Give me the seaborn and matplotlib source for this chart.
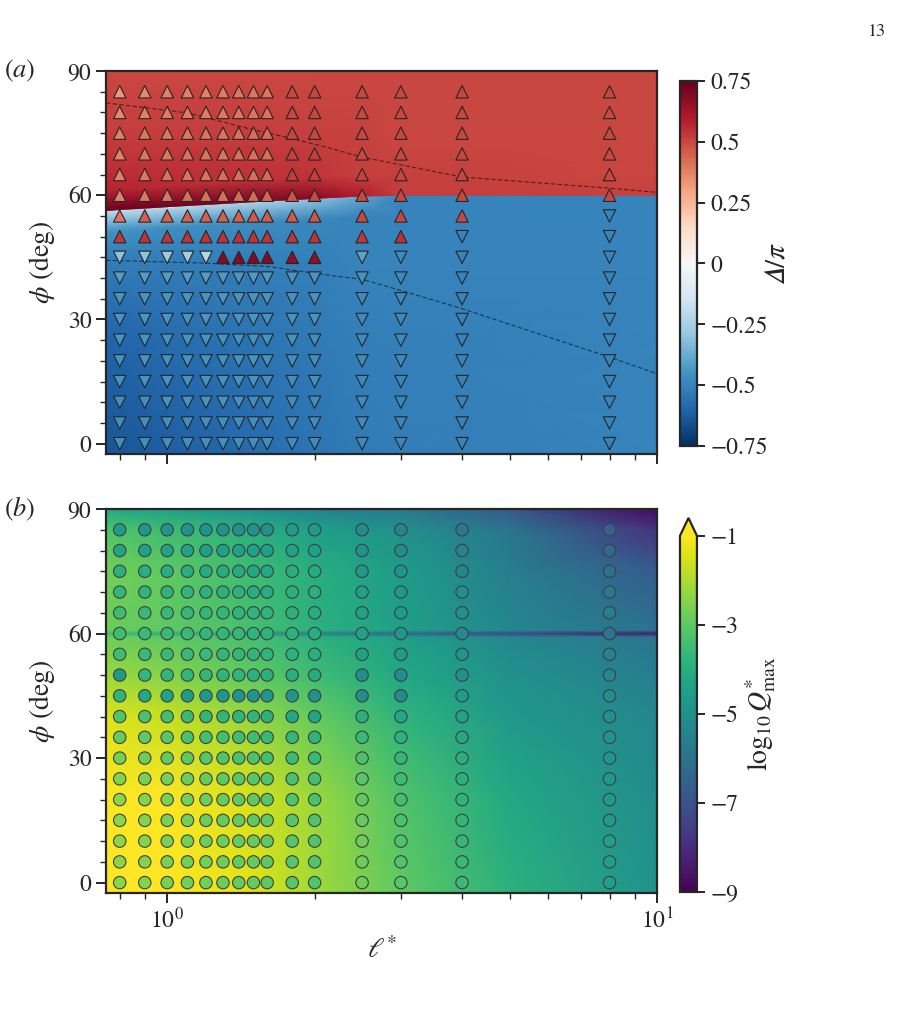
import numpy as np
import pandas as pd
import matplotlib
matplotlib.use("Agg")
import matplotlib.pyplot as plt
import seaborn as sns

# -------------------- data --------------------

ell = [0.8, 0.9, 1.0, 1.1, 1.2, 1.3, 1.4, 1.5, 1.6, 1.8, 2.0, 2.5, 3.0, 4.0, 8.0]
phi = [85, 80, 75, 70, 65, 60, 55, 50, 45, 40, 35, 30, 25, 20, 15, 10, 5, 0]

# Delta/pi at each simulation point (rows follow phi, columns follow ell)
delta = [
    [0.33, 0.36, 0.38, 0.38, 0.38, 0.39, 0.40, 0.40, 0.40, 0.50, 0.50, 0.50, 0.50, 0.50, 0.50],
    [0.36, 0.38, 0.39, 0.39, 0.39, 0.40, 0.40, 0.41, 0.41, 0.50, 0.50, 0.50, 0.50, 0.50, 0.50],
    [0.38, 0.40, 0.40, 0.40, 0.41, 0.41, 0.41, 0.42, 0.42, 0.50, 0.50, 0.50, 0.50, 0.50, 0.50],
    [0.38, 0.40, 0.40, 0.41, 0.41, 0.41, 0.42, 0.42, 0.42, 0.51, 0.51, 0.50, 0.50, 0.50, 0.50],
    [0.38, 0.40, 0.41, 0.41, 0.41, 0.42, 0.42, 0.42, 0.43, 0.52, 0.52, 0.51, 0.50, 0.50, 0.50],
    [0.38, 0.40, 0.41, 0.42, 0.42, 0.42, 0.43, 0.43, 0.44, 0.48, 0.50, 0.50, 0.50, 0.50, 0.50],
    [0.40, 0.45, 0.45, 0.45, 0.45, 0.45, 0.45, 0.46, 0.46, 0.46, 0.47, 0.50, 0.50, 0.50, -0.50],
    [0.53, 0.54, 0.54, 0.54, 0.54, 0.54, 0.54, 0.54, 0.54, 0.54, 0.54, 0.53, 0.55, -0.50, -0.50],
    [-0.30, -0.30, -0.28, -0.26, -0.22, 0.68, 0.68, 0.68, 0.68, 0.66, 0.66, -0.40, -0.47, -0.50, -0.50],
    [-0.42, -0.42, -0.42, -0.42, -0.42, -0.43, -0.43, -0.43, -0.43, -0.44, -0.44, -0.45, -0.48, -0.50, -0.50],
    [-0.44, -0.44, -0.44, -0.44, -0.44, -0.44, -0.44, -0.44, -0.44, -0.45, -0.45, -0.47, -0.48, -0.50, -0.50],
    [-0.44, -0.44, -0.44, -0.44, -0.44, -0.44, -0.44, -0.44, -0.45, -0.45, -0.45, -0.47, -0.48, -0.50, -0.50],
    [-0.45, -0.45, -0.45, -0.45, -0.45, -0.45, -0.45, -0.45, -0.45, -0.45, -0.46, -0.47, -0.48, -0.50, -0.50],
    [-0.45, -0.45, -0.45, -0.45, -0.45, -0.45, -0.45, -0.45, -0.45, -0.46, -0.46, -0.47, -0.48, -0.50, -0.50],
    [-0.45, -0.45, -0.45, -0.45, -0.45, -0.45, -0.45, -0.45, -0.46, -0.46, -0.46, -0.47, -0.49, -0.50, -0.50],
    [-0.46, -0.46, -0.45, -0.45, -0.45, -0.45, -0.45, -0.46, -0.46, -0.46, -0.46, -0.48, -0.49, -0.50, -0.50],
    [-0.46, -0.46, -0.46, -0.46, -0.46, -0.46, -0.46, -0.46, -0.46, -0.46, -0.47, -0.48, -0.49, -0.50, -0.50],
    [-0.46, -0.46, -0.46, -0.46, -0.46, -0.46, -0.46, -0.46, -0.46, -0.47, -0.47, -0.48, -0.49, -0.50, -0.50],
]

# log10 Q*_max at each simulation point
logq = [
    [-4.6, -4.8, -4.9, -4.9, -4.9, -5.0, -5.0, -5.0, -5.0, -4.6, -4.7, -5.2, -5.4, -5.8, -6.6],
    [-4.3, -4.4, -4.4, -4.4, -4.5, -4.5, -4.5, -4.5, -4.5, -4.4, -4.5, -4.9, -5.1, -5.5, -6.3],
    [-3.9, -4.0, -4.0, -4.0, -4.1, -4.1, -4.1, -4.2, -4.2, -4.0, -4.1, -4.6, -4.8, -5.3, -6.0],
    [-3.7, -3.8, -3.8, -3.8, -3.9, -3.9, -3.9, -4.0, -4.0, -3.9, -4.0, -4.5, -4.7, -5.1, -5.8],
    [-3.5, -3.6, -3.6, -3.7, -3.7, -3.7, -3.8, -3.8, -3.8, -3.9, -4.0, -4.4, -4.6, -5.0, -5.6],
    [-3.5, -3.6, -3.6, -3.6, -3.7, -3.7, -3.7, -3.8, -3.8, -3.9, -4.0, -4.5, -4.8, -5.2, -5.9],
    [-3.5, -3.6, -3.6, -3.6, -3.6, -3.7, -3.7, -3.8, -3.8, -3.9, -4.0, -4.4, -4.6, -4.9, -5.5],
    [-4.6, -3.7, -3.7, -3.7, -3.7, -3.8, -3.8, -3.9, -3.9, -4.0, -4.1, -5.0, -5.1, -5.0, -5.3],
    [-3.8, -4.2, -4.4, -4.6, -4.7, -4.8, -4.8, -4.8, -4.8, -4.8, -5.0, -5.1, -5.2, -4.6, -5.1],
    [-3.2, -3.3, -3.4, -3.6, -3.7, -3.7, -3.8, -3.8, -3.9, -4.2, -4.3, -3.9, -4.2, -4.4, -5.0],
    [-2.9, -3.0, -3.1, -3.3, -3.4, -3.4, -3.5, -3.5, -3.6, -3.7, -3.8, -3.6, -3.9, -4.2, -4.9],
    [-2.7, -2.8, -2.9, -3.0, -3.1, -3.2, -3.3, -3.3, -3.4, -3.5, -3.6, -3.3, -3.7, -4.0, -4.8],
    [-2.5, -2.6, -2.7, -2.8, -2.9, -3.0, -3.1, -3.1, -3.2, -3.3, -3.4, -3.1, -3.5, -3.9, -4.7],
    [-2.4, -2.5, -2.6, -2.7, -2.8, -2.9, -3.0, -3.0, -3.1, -3.2, -3.3, -3.0, -3.4, -3.8, -4.6],
    [-2.4, -2.5, -2.6, -2.7, -2.8, -2.9, -2.9, -3.0, -3.0, -3.1, -3.2, -2.9, -3.3, -3.7, -4.6],
    [-2.4, -2.5, -2.6, -2.7, -2.8, -2.8, -2.9, -2.9, -3.0, -3.1, -3.2, -2.8, -3.2, -3.7, -4.5],
    [-2.4, -2.5, -2.6, -2.7, -2.7, -2.8, -2.9, -2.9, -3.0, -3.1, -3.2, -2.8, -3.2, -3.6, -4.5],
    [-2.4, -2.5, -2.6, -2.7, -2.7, -2.8, -2.9, -2.9, -3.0, -3.1, -3.2, -2.8, -3.1, -3.6, -4.5],
]

# background field of panel (a): columns in ell, boundary between the two branches
bga_x = [0.75, 1.0, 1.5, 2.0, 2.4, 3.0, 10.0]
bga_edge = [56.3, 57.2, 58.4, 59.2, 59.7, 60.0, 60.0]
bga_low_y = [-2.5, 25, 45]
bga_low = [
    [-0.64, -0.62, -0.58, -0.55, -0.53, -0.52, -0.50],
    [-0.60, -0.58, -0.55, -0.53, -0.52, -0.51, -0.50],
    [-0.52, -0.52, -0.51, -0.51, -0.50, -0.50, -0.50],
    [-0.45, -0.46, -0.47, -0.49, -0.50, -0.50, -0.50],  # 5 deg under the edge
    [-0.18, -0.20, -0.24, -0.30, -0.38, -0.50, -0.50],  # at the edge
]
bga_high = [
    [0.74, 0.73, 0.71, 0.68, 0.60, 0.52, 0.51],  # at the edge
    [0.57, 0.56, 0.55, 0.54, 0.52, 0.51, 0.50],  # 5 deg above the edge
    [0.52, 0.52, 0.52, 0.51, 0.51, 0.50, 0.50],
    [0.50, 0.50, 0.50, 0.50, 0.50, 0.50, 0.50],
]
bga_high_y = [75, 90]

# background field of panel (b)
bgb_x = [0.75, 1.0, 1.5, 2.0, 3.0, 5.0, 10.0]
bgb_y = [-2.5, 20, 40, 50, 59.2, 60, 60.8, 75, 85, 90]
bgb = [
    [-0.5, -0.8, -1.4, -2.1, -3.0, -3.9, -4.9],
    [-0.6, -0.9, -1.5, -2.2, -3.2, -4.2, -5.1],
    [-1.4, -1.7, -2.3, -2.9, -3.8, -4.7, -5.3],
    [-2.2, -2.5, -3.0, -3.5, -4.2, -5.0, -5.6],
    [-2.8, -3.0, -3.4, -3.9, -4.5, -5.3, -5.9],
    [-3.6, -4.0, -4.8, -5.6, -6.5, -7.4, -8.5],
    [-2.8, -3.0, -3.4, -3.9, -4.5, -5.3, -6.0],
    [-2.7, -3.0, -3.5, -4.0, -4.6, -5.6, -6.7],
    [-3.2, -3.5, -4.0, -4.5, -5.0, -5.9, -7.8],
    [-4.2, -4.5, -5.0, -5.4, -5.8, -6.8, -8.8],
]

# dashed curves of panel (a)
upper_x = [0.75, 1.1, 1.5, 1.8, 2.16, 2.5, 4.0, 8.0, 10.0]
upper_y = [82.3, 79.9, 75.8, 73.7, 71.3, 69.2, 64.4, 61.7, 60.7]
lower_x = [0.75, 1.2, 1.6, 2.16, 2.5, 3.0, 4.0, 8.0, 10.0]
lower_y = [44.3, 43.6, 42.8, 40.6, 39.7, 37.0, 32.6, 20.9, 16.9]

# -------------------- style --------------------

sns.set_style("ticks")
plt.rcParams["font.family"] = ["STIXGeneral", "DejaVu Serif"]
plt.rcParams["mathtext.fontset"] = "stix"
plt.rcParams["font.size"] = 17
plt.rcParams["axes.linewidth"] = 1.6
plt.rcParams["xtick.direction"] = "out"
plt.rcParams["ytick.direction"] = "out"

fig = plt.figure(figsize=(9.12, 10.15), dpi=100)
ax_a = fig.add_axes([0.1162, 0.5527, 0.6042, 0.3773])
ax_b = fig.add_axes([0.1162, 0.1202, 0.6042, 0.3783])
cax_a = fig.add_axes([0.7456, 0.5606, 0.0186, 0.3596])
cax_b = fig.add_axes([0.7456, 0.1212, 0.0186, 0.3685])

# long-form table of the simulation points
L, P = np.meshgrid(ell, phi)
df = pd.DataFrame({"ell": L.ravel(), "phi": P.ravel(),
                   "delta": np.array(delta).ravel(), "logq": np.array(logq).ravel()})
df["branch"] = np.where(df["delta"] > 0, "up", "down")

norm_a = plt.Normalize(-0.75, 0.75)
norm_b = plt.Normalize(-9, -1)

# -------------------- panel (a) --------------------

edge = np.array(bga_edge)
ncol = len(bga_x)
ya = np.vstack([np.full(ncol, v) for v in bga_low_y] +
               [edge - 5, edge - 0.05, edge + 0.05, edge + 5] +
               [np.full(ncol, v) for v in bga_high_y])
xa = np.tile(bga_x, (ya.shape[0], 1))
ca = np.vstack([bga_low, bga_high])
mesh_a = ax_a.pcolormesh(xa, ya, ca, cmap="RdBu_r", norm=norm_a,
                         shading="gouraud", zorder=1)

ax_a.plot(upper_x, upper_y, ls=(0, (4, 2)), color="k", alpha=0.55, lw=0.8, zorder=2)
ax_a.plot(lower_x, lower_y, ls=(0, (4, 2)), color="k", alpha=0.55, lw=0.8, zorder=2)

sns.scatterplot(data=df, x="ell", y="phi", hue="delta", palette="RdBu_r",
                hue_norm=norm_a, style="branch", markers={"up": "^", "down": "v"},
                s=80, edgecolor="0.15", linewidth=0.8, legend=False, ax=ax_a, zorder=3)

# -------------------- panel (b) --------------------

mesh_b = ax_b.pcolormesh(bgb_x, bgb_y, bgb, cmap="viridis", norm=norm_b,
                         shading="gouraud", zorder=1)
sns.scatterplot(data=df, x="ell", y="phi", hue="logq", palette="viridis",
                hue_norm=norm_b, marker="o", s=80, edgecolor="0.25",
                linewidth=0.8, legend=False, ax=ax_b, zorder=3)

# -------------------- axes --------------------

for ax in (ax_a, ax_b):
    ax.set_xscale("log")
    ax.set_xlim(0.75, 10)
    ax.set_ylim(-2.5, 90)
    ax.set_yticks([0, 30, 60, 90])
    ax.set_yticks(np.arange(0, 90, 5), minor=True)
    ax.set_ylabel(r"$\phi$ (deg)", fontsize=20, labelpad=8)
    ax.tick_params(which="major", length=7, width=1.4, labelsize=17)
    ax.tick_params(which="minor", length=4, width=1.0)
    for sp in ax.spines.values():
        sp.set_linewidth(1.6)

ax_a.set_xlabel("")
ax_a.tick_params(axis="x", which="both", labelbottom=False)
ax_b.set_xlabel(r"$\ell^{*}$", fontsize=20, labelpad=3)

ax_a.text(-0.185, 1.0, r"$(a)$", transform=ax_a.transAxes, fontsize=19, va="center")
ax_b.text(-0.185, 1.0, r"$(b)$", transform=ax_b.transAxes, fontsize=19, va="center")

# -------------------- colourbars --------------------

cb_a = fig.colorbar(mesh_a, cax=cax_a, ticks=[-0.75, -0.5, -0.25, 0, 0.25, 0.5, 0.75])
cb_a.ax.set_yticklabels(["\u22120.75", "\u22120.5", "\u22120.25", "0", "0.25", "0.5", "0.75"])
cb_a.set_label("$\U0001D6E5/\\pi$", fontsize=21, labelpad=-2)

cb_b = fig.colorbar(mesh_b, cax=cax_b, extend="max", ticks=[-9, -7, -5, -3, -1])
cb_b.set_label(r"$\log_{10}Q^{*}_{\max}$", fontsize=20, labelpad=4)

for cb in (cb_a, cb_b):
    cb.outline.set_linewidth(1.6)
    cb.ax.tick_params(length=6, width=1.4, labelsize=17)

fig.text(0.972, 0.968, "13", fontsize=13, ha="right", va="center")

fig.savefig("out.png", dpi=100)
